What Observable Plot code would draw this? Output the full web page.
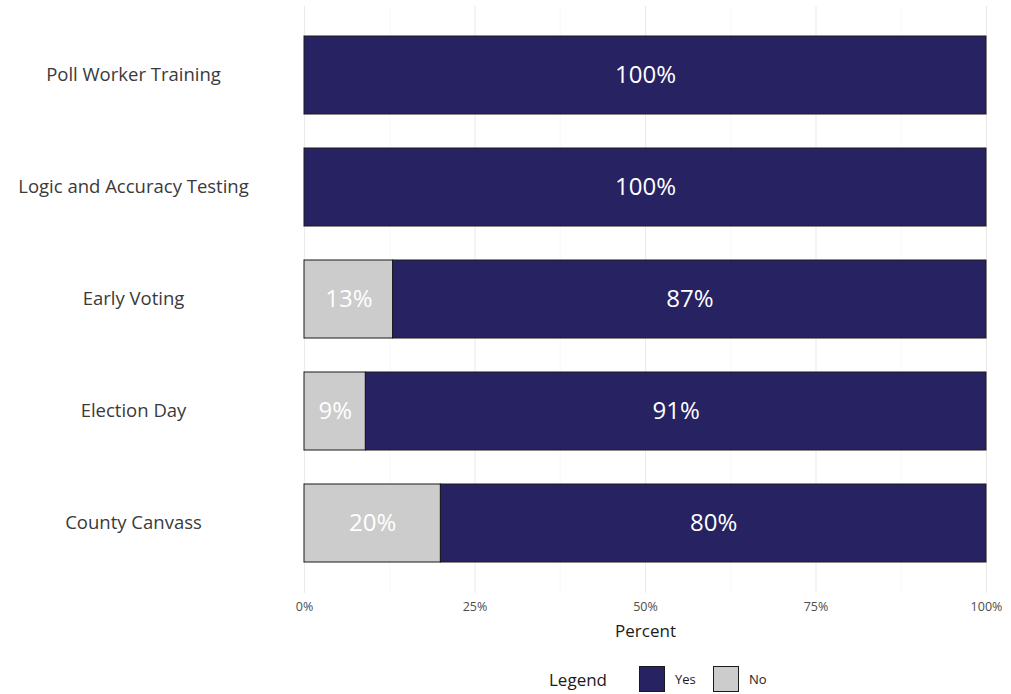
<!DOCTYPE html>
<html>
<head>
<meta charset="utf-8">
<script src="https://cdn.jsdelivr.net/npm/d3@7"></script>
<script src="https://cdn.jsdelivr.net/npm/@observablehq/plot@0.6"></script>
<style>
  body { margin: 0; background: #fff; font-family: "Open Sans", Lato, sans-serif; position: relative; width: 1011px; height: 694px; overflow: hidden; }
  #chart svg { display: block; }
  #legend { position: absolute; left: 0; top: 666px; width: 1011px; height: 26px; }
  #legend .item { position: absolute; display: flex; align-items: center; }
  #legend .title { font-size: 17px; color: #1a1a1a; }
  #legend .sw { width: 24px; height: 24px; border: 1px solid #1a1a1a; box-sizing: content-box; }
  #legend .lab { font-size: 13px; color: #1a1a1a; margin-left: 10px; }
</style>
</head>
<body>
<div id="chart"></div>
<div id="legend"></div>
<script>
const categories = ["Poll Worker Training", "Logic and Accuracy Testing", "Early Voting", "Election Day", "County Canvass"];
const responses = ["No", "Yes"];
const noValues = [0, 0, 13, 9, 20];
const yesValues = [100, 100, 87, 91, 80];
const xTicks = [0, 25, 50, 75, 100];
const xGrid = [0, 12.5, 25, 37.5, 50, 62.5, 75, 87.5, 100];
const colors = ["#cccccc", "#272262"];

const data = [];
categories.forEach((c, i) => data.push({category: c, response: "No", value: noValues[i]}));
categories.forEach((c, i) => data.push({category: c, response: "Yes", value: yesValues[i]}));

const chart = Plot.plot({
  width: 1011,
  height: 650,
  marginLeft: 304,
  marginRight: 25,
  marginTop: 6,
  marginBottom: 57,
  style: {fontFamily: "'Open Sans', Lato, sans-serif", background: "#fff"},
  x: {domain: [0, 100]},
  y: {domain: categories, paddingInner: 0.3, paddingOuter: 0.25},
  color: {domain: responses, range: colors},
  marks: [
    Plot.ruleX(xGrid, {stroke: d => d % 25 === 0 ? "#ebebeb" : "#f4f4f4", strokeWidth: d => d % 25 === 0 ? 1.1 : 0.6}),
    Plot.ruleY(categories, {stroke: "#ebebeb", strokeWidth: 1.1}),
    Plot.barX(data, Plot.stackX({x: "value", y: "category", fill: "response", stroke: "#1a1a1a", strokeWidth: 1})),
    Plot.text(data.filter(d => d.value > 0), Plot.stackX({
      x: "value", y: "category", z: "response",
      text: d => d.value + "%", fill: "white", fontSize: 24, fontWeight: 400
    })),
    Plot.axisX({
      ticks: xTicks, tickFormat: d => d + "%", tickSize: 0, tickPadding: 9,
      fontSize: 12.5, color: "#4d4d4d",
      label: "Percent", labelAnchor: "center", labelArrow: "none", labelOffset: 43
    }),
    Plot.axisY({
      tickSize: 0, tickPadding: 0, textAnchor: "middle", dx: -171,
      fontSize: 18.5, color: "#3a3a3a", label: null
    })
  ]
});
chart.querySelectorAll("g[aria-label='x-axis label']").forEach(el => {
  el.setAttribute("font-size", "17"); el.setAttribute("fill", "#1a1a1a");
});
document.getElementById("chart").appendChild(chart);

const legend = document.getElementById("legend");
const items = [
  {html: '<span class="title">Legend</span>', left: 549},
  {html: `<span class="sw" style="background:${colors[1]}"></span><span class="lab">Yes</span>`, left: 639},
  {html: `<span class="sw" style="background:${colors[0]}"></span><span class="lab">No</span>`, left: 713}
];
items.forEach(it => {
  const d = document.createElement("div");
  d.className = "item";
  d.style.left = it.left + "px";
  d.style.height = "26px";
  d.innerHTML = it.html;
  legend.appendChild(d);
});
</script>
</body>
</html>
